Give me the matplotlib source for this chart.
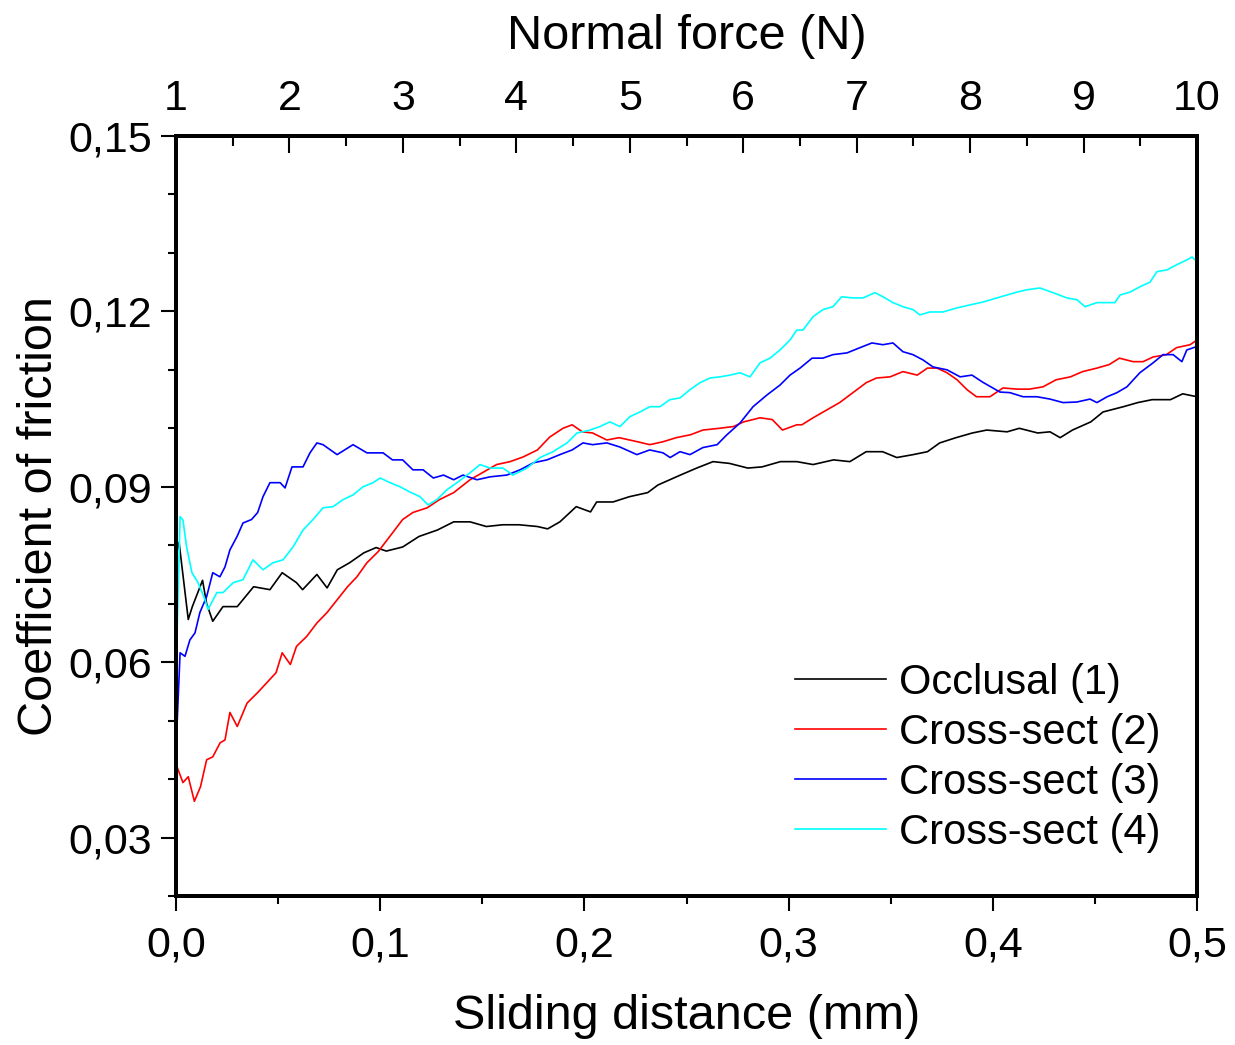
import matplotlib
matplotlib.use("Agg")
import matplotlib.pyplot as plt
from matplotlib.ticker import MultipleLocator, FuncFormatter

plt.rcParams['font.family'] = ['Liberation Sans', 'DejaVu Sans']

# Occlusal (1)
occ_x = [0.0, 0.0015, 0.006, 0.008, 0.013, 0.015, 0.018, 0.023, 0.030, 0.038, 0.046, 0.052,
         0.059, 0.062, 0.069, 0.074, 0.079, 0.085, 0.092, 0.098, 0.103, 0.111, 0.119, 0.128,
         0.136, 0.144, 0.152, 0.160, 0.168, 0.177, 0.182, 0.188, 0.196, 0.203, 0.206, 0.214,
         0.222, 0.231, 0.236, 0.247, 0.255, 0.263, 0.271, 0.280, 0.287, 0.296, 0.304, 0.312,
         0.322, 0.330, 0.338, 0.346, 0.353, 0.361, 0.368, 0.374, 0.382, 0.390, 0.397, 0.407,
         0.413, 0.422, 0.428, 0.433, 0.439, 0.448, 0.454, 0.464, 0.471, 0.478, 0.487, 0.493, 0.500]
occ_y = [0.0780, 0.0805, 0.0673, 0.0695, 0.0740, 0.0700, 0.0670, 0.0695, 0.0695, 0.0729, 0.0724, 0.0753,
         0.0736, 0.0724, 0.0750, 0.0727, 0.0758, 0.0770, 0.0787, 0.0796, 0.0790, 0.0797, 0.0815, 0.0826,
         0.0840, 0.0840, 0.0832, 0.0835, 0.0835, 0.0832, 0.0828, 0.0840, 0.0866, 0.0857, 0.0874, 0.0874,
         0.0883, 0.0890, 0.0903, 0.0920, 0.0932, 0.0943, 0.0940, 0.0932, 0.0934, 0.0943, 0.0943, 0.0938,
         0.0946, 0.0943, 0.0960, 0.0960, 0.0950, 0.0955, 0.0960, 0.0975, 0.0984, 0.0992, 0.0997, 0.0994,
         0.1000, 0.0992, 0.0994, 0.0984, 0.0997, 0.1011, 0.1028, 0.1037, 0.1044, 0.1049, 0.1049, 0.1059, 0.1054]

# Cross-sect (2)
cs2_x = [0.0, 0.0005, 0.0034, 0.006, 0.009, 0.012, 0.015, 0.018, 0.0216, 0.024, 0.0264, 0.030,
         0.0348, 0.040, 0.0445, 0.049, 0.052, 0.056, 0.059, 0.064, 0.069, 0.074, 0.079, 0.084,
         0.0886, 0.0935, 0.099, 0.106, 0.111, 0.116, 0.123, 0.129, 0.136, 0.144, 0.150, 0.157,
         0.1636, 0.170, 0.177, 0.183, 0.1895, 0.194, 0.199, 0.204, 0.211, 0.217, 0.226, 0.232,
         0.2385, 0.245, 0.252, 0.258, 0.266, 0.273, 0.278, 0.286, 0.292, 0.297, 0.304, 0.3065,
         0.312, 0.319, 0.325, 0.3315, 0.338, 0.343, 0.3497, 0.356, 0.363, 0.368, 0.3727, 0.3776,
         0.3825, 0.3874, 0.392, 0.3986, 0.405, 0.412, 0.418, 0.4246, 0.431, 0.438, 0.444, 0.451,
         0.457, 0.462, 0.4687, 0.4736, 0.4785, 0.485, 0.490, 0.4966, 0.500]
cs2_y = [0.0331, 0.0421, 0.0394, 0.0404, 0.0362, 0.0387, 0.0433, 0.0438, 0.0462, 0.0467, 0.0514, 0.0490,
         0.0530, 0.0548, 0.0565, 0.0582, 0.0616, 0.0596, 0.0627, 0.0644, 0.0667, 0.0685, 0.0707, 0.0729,
         0.0746, 0.0770, 0.0789, 0.0821, 0.0844, 0.0856, 0.0864, 0.0878, 0.0890, 0.0912, 0.0924, 0.0938,
         0.0943, 0.0951, 0.0963, 0.0985, 0.1000, 0.1006, 0.0994, 0.0992, 0.0980, 0.0984, 0.0977, 0.0972,
         0.0977, 0.0984, 0.0989, 0.0997, 0.1000, 0.1003, 0.1011, 0.1018, 0.1015, 0.0997, 0.1006, 0.1006,
         0.1018, 0.1032, 0.1044, 0.1061, 0.1078, 0.1086, 0.1088, 0.1097, 0.1091, 0.1103, 0.1103, 0.1095,
         0.1083, 0.1066, 0.1054, 0.1054, 0.1069, 0.1067, 0.1067, 0.1071, 0.1083, 0.1088, 0.1097, 0.1103,
         0.1109, 0.1120, 0.1114, 0.1114, 0.1122, 0.1126, 0.1138, 0.1143, 0.1151]

# Cross-sect (3)
cs3_x = [0.0, 0.002, 0.0044, 0.0068, 0.0093, 0.0117, 0.015, 0.018, 0.0215, 0.024, 0.0264, 0.0299,
         0.0328, 0.037, 0.040, 0.0426, 0.046, 0.051, 0.0534, 0.0568, 0.0622, 0.0656, 0.069, 0.072,
         0.0789, 0.0867, 0.0935, 0.1014, 0.106, 0.111, 0.116, 0.121, 0.126, 0.131, 0.136, 0.1405,
         0.1474, 0.1538, 0.162, 0.1685, 0.175, 0.1817, 0.188, 0.194, 0.1993, 0.204, 0.211, 0.2174,
         0.2257, 0.232, 0.2385, 0.242, 0.2468, 0.2517, 0.258, 0.265, 0.2698, 0.2762, 0.2826, 0.2894,
         0.2958, 0.3007, 0.3056, 0.3115, 0.3168, 0.3217, 0.3286, 0.335, 0.3408, 0.3462, 0.3511, 0.356,
         0.3609, 0.3658, 0.3707, 0.3776, 0.384, 0.3898, 0.395, 0.4035, 0.4084, 0.4148, 0.4216, 0.428,
         0.4344, 0.4412, 0.4476, 0.451, 0.456, 0.4608, 0.4657, 0.472, 0.4785, 0.4834, 0.4883, 0.4926,
         0.495, 0.500]
cs3_y = [0.0450, 0.0616, 0.0610, 0.0638, 0.0650, 0.0685, 0.0712, 0.0753, 0.0746, 0.0763, 0.0792, 0.0815,
         0.0838, 0.0844, 0.0856, 0.0883, 0.0907, 0.0907, 0.0898, 0.0934, 0.0934, 0.0958, 0.0975, 0.0972,
         0.0955, 0.0972, 0.0958, 0.0958, 0.0946, 0.0946, 0.0929, 0.0929, 0.0915, 0.0920, 0.0912, 0.0920,
         0.0912, 0.0917, 0.0920, 0.0929, 0.0941, 0.0946, 0.0955, 0.0963, 0.0975, 0.0972, 0.0975, 0.0968,
         0.0955, 0.0963, 0.0958, 0.0950, 0.0960, 0.0955, 0.0967, 0.0972, 0.0989, 0.1009, 0.1037, 0.1057,
         0.1074, 0.1091, 0.1103, 0.1120, 0.1120, 0.1126, 0.1129, 0.1138, 0.1146, 0.1143, 0.1146, 0.1131,
         0.1126, 0.1117, 0.1105, 0.1100, 0.1088, 0.1091, 0.1079, 0.1062, 0.1061, 0.1054, 0.1054, 0.1050,
         0.1044, 0.1045, 0.1050, 0.1044, 0.1054, 0.1061, 0.1071, 0.1095, 0.1112, 0.1126, 0.1126, 0.1114,
         0.1134, 0.1140]

# Cross-sect (4)
cs4_x = [0.0, 0.002, 0.0034, 0.0052, 0.0078, 0.0108, 0.0142, 0.0157, 0.020, 0.023, 0.028, 0.0328,
         0.0377, 0.0426, 0.0475, 0.0524, 0.0573, 0.0622, 0.0671, 0.072, 0.0769, 0.0818, 0.0867, 0.0916,
         0.0965, 0.100, 0.1048, 0.1097, 0.1146, 0.1195, 0.1234, 0.1278, 0.1327, 0.1376, 0.144, 0.1489,
         0.1538, 0.1601, 0.165, 0.1719, 0.1783, 0.1846, 0.1915, 0.1964, 0.2027, 0.2076, 0.2125, 0.2174,
         0.2223, 0.2272, 0.2321, 0.237, 0.2419, 0.2468, 0.2517, 0.2566, 0.2615, 0.2664, 0.2713, 0.2762,
         0.2811, 0.286, 0.2909, 0.2958, 0.3007, 0.304, 0.307, 0.312, 0.3168, 0.3217, 0.326, 0.3315,
         0.3364, 0.3423, 0.3462, 0.3511, 0.356, 0.3609, 0.3643, 0.3692, 0.3756, 0.3825, 0.3888, 0.3952,
         0.402, 0.4118, 0.4167, 0.4231, 0.4295, 0.4363, 0.4412, 0.4452, 0.451, 0.4559, 0.4598, 0.4623,
         0.4672, 0.472, 0.477, 0.4804, 0.4853, 0.4902, 0.495, 0.4976, 0.500]
cs4_y = [0.0575, 0.0849, 0.0843, 0.0797, 0.0753, 0.0736, 0.0707, 0.0690, 0.0719, 0.0719, 0.0736, 0.0741,
         0.0775, 0.0758, 0.0770, 0.0775, 0.0797, 0.0826, 0.0844, 0.0864, 0.0866, 0.0878, 0.0886, 0.0900,
         0.0907, 0.0915, 0.0907, 0.0900, 0.0891, 0.0883, 0.0869, 0.0878, 0.0895, 0.0907, 0.0924, 0.0938,
         0.0932, 0.0932, 0.0920, 0.0932, 0.0950, 0.0960, 0.0975, 0.0992, 0.0997, 0.1003, 0.1011, 0.1003,
         0.1020, 0.1028, 0.1037, 0.1037, 0.1049, 0.1052, 0.1066, 0.1078, 0.1086, 0.1088, 0.1091, 0.1095,
         0.1088, 0.1112, 0.1120, 0.1134, 0.1151, 0.1168, 0.1168, 0.1191, 0.1203, 0.1208, 0.1225, 0.1223,
         0.1223, 0.1232, 0.1225, 0.1215, 0.1208, 0.1203, 0.1194, 0.1199, 0.1199, 0.1206, 0.1211, 0.1216,
         0.1223, 0.1233, 0.1237, 0.1240, 0.1232, 0.1223, 0.1220, 0.1208, 0.1215, 0.1215, 0.1215, 0.1228,
         0.1233, 0.1242, 0.1250, 0.1268, 0.1271, 0.1280, 0.1288, 0.1293, 0.1285]

series = [
    (occ_x, occ_y, "black", "Occlusal (1)"),
    (cs2_x, cs2_y, "#ff0000", "Cross-sect (2)"),
    (cs3_x, cs3_y, "#0000ff", "Cross-sect (3)"),
    (cs4_x, cs4_y, "#00ffff", "Cross-sect (4)"),
]

fig = plt.figure(figsize=(12.35, 10.45), dpi=100)
ax = fig.add_axes([176 / 1235, 1 - 896 / 1045, 1021 / 1235, 760 / 1045])

for x, y, c, lab in series:
    ax.plot(x, y, color=c, lw=1.2, label=lab)

ax.set_xlim(0, 0.5)
ax.set_ylim(0.02, 0.15)
ax.xaxis.set_major_locator(MultipleLocator(0.1))
ax.xaxis.set_minor_locator(MultipleLocator(0.05))
ax.yaxis.set_major_locator(MultipleLocator(0.03))
ax.yaxis.set_minor_locator(MultipleLocator(0.01))
ax.xaxis.set_major_formatter(FuncFormatter(lambda v, pos: ("%.1f" % v).replace(".", ",")))
ax.yaxis.set_major_formatter(FuncFormatter(lambda v, pos: ("%.2f" % v).replace(".", ",")))
ax.set_yticks([0.03, 0.06, 0.09, 0.12, 0.15])

ax.tick_params(axis="x", which="major", direction="out", length=11, width=1.5, labelsize=31, pad=10)
ax.tick_params(axis="x", which="minor", direction="out", length=6, width=1.5)
ax.tick_params(axis="y", which="major", direction="out", length=11, width=1.5, labelsize=31, pad=6)
ax.tick_params(axis="y", which="minor", direction="out", length=6, width=1.5)
ax.tick_params(top=False, right=False, which="both")
for s in ax.spines.values():
    s.set_linewidth(2.8)

ax.set_xlabel("Sliding distance (mm)", fontsize=35, labelpad=21)
ax.set_ylabel("Coefficient of friction", fontsize=35, labelpad=5)

# top axis: normal force
ax2 = ax.twiny()
ax2.set_xlim(1, 10)
ax2.xaxis.set_major_locator(MultipleLocator(1))
ax2.xaxis.set_minor_locator(MultipleLocator(0.5))
ax2.tick_params(axis="x", which="major", direction="in", length=12, width=1.5, labelsize=31, pad=12)
ax2.tick_params(axis="x", which="minor", direction="in", length=7, width=1.5)
ax2.set_xlabel("Normal force (N)", fontsize=35, labelpad=22)
for s in ax2.spines.values():
    s.set_linewidth(2.8)

ax.legend(loc="upper left", bbox_to_anchor=(0.606, 0.307), frameon=False, fontsize=30,
          handlelength=2.2, handletextpad=0.3, labelspacing=0.24, borderpad=0, borderaxespad=0)

fig.savefig("out.png", dpi=100)
